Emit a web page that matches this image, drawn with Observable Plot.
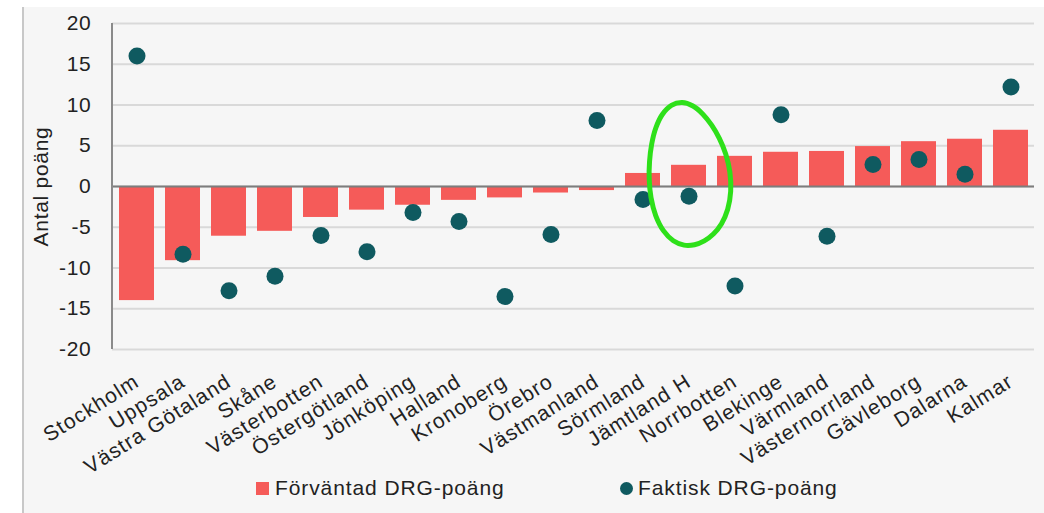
<!DOCTYPE html>
<html><head><meta charset="utf-8">
<script src="https://cdn.jsdelivr.net/npm/d3@7"></script>
<script src="https://cdn.jsdelivr.net/npm/@observablehq/plot@0.6"></script>
<style>
html,body{margin:0;padding:0;background:#fff;}
#wrap{position:relative;width:1044px;height:513px;overflow:hidden;font-family:"Liberation Sans",Arial,sans-serif;}
#panel{position:absolute;left:22px;top:7px;right:0;bottom:0;background:#f6f6f6;border-left:2px solid #c8c8c8;}
#chart{position:absolute;left:0;top:0;}
#chart svg text{letter-spacing:0.7px;}
#chart svg g[aria-label="x-axis tick label"] text{letter-spacing:1.1px;}
#legend{position:absolute;left:0;top:476px;width:1044px;height:37px;}
.item{position:absolute;top:0px;height:24px;line-height:24px;font-size:21px;letter-spacing:0.9px;color:#222;white-space:nowrap;}
.sw{position:absolute;}
</style></head>
<body>
<div id="wrap">
  <div id="panel"></div>
  <div id="chart"></div>
  <div id="legend"></div>
</div>
<script>
const regions = ["Stockholm","Uppsala","Västra Götaland","Skåne","Västerbotten","Östergötland","Jönköping","Halland","Kronoberg","Örebro","Västmanland","Sörmland","Jämtland H","Norrbotten","Blekinge","Värmland","Västernorrland","Gävleborg","Dalarna","Kalmar"];
const expected = [-14.0,-9.1,-6.1,-5.5,-3.8,-2.9,-2.3,-1.7,-1.4,-0.8,-0.5,1.6,2.6,3.7,4.2,4.3,4.9,5.5,5.8,6.9];
const actual = [16.0,-8.3,-12.8,-11.0,-6.0,-8.0,-3.2,-4.3,-13.5,-5.9,8.1,-1.6,-1.2,-12.2,8.8,-6.1,2.7,3.3,1.5,12.2];
const yTicks = [-20,-15,-10,-5,0,5,10,15,20];
const seriesNames = ["Förväntad DRG-poäng","Faktisk DRG-poäng"];
const highlight = {region: "Jämtland H", yLow: -7.5, yHigh: 10.0};

const barColor = "#f55b59";
const dotColor = "#0f5a60";
const data = regions.map((r, i) => ({region: r, expected: expected[i], actual: actual[i]}));

const plot = Plot.plot({
  width: 1044,
  height: 476,
  marginLeft: 112,
  marginRight: 10,
  marginTop: 23,
  marginBottom: 127,
  style: {background: "transparent", fontFamily: "'Liberation Sans', Arial, sans-serif", color: "#222", overflow: "visible"},
  x: {domain: regions, paddingInner: 0.24, paddingOuter: 0.12},
  y: {domain: [-20, 20]},
  marks: [
    Plot.gridY(yTicks, {stroke: "#d9d9d9", strokeOpacity: 1, strokeWidth: 2}),
    Plot.barY(data, {x: "region", y: "expected", fill: barColor}),
    Plot.ruleY([0], {stroke: "#7d7d7d", strokeWidth: 2}),
    Plot.dot(data, {x: "region", y: "actual", r: 8.5, fill: dotColor}),
    Plot.axisY(yTicks, {tickSize: 0, tickPadding: 21, fontSize: 21, tickFormat: d => String(d),
      label: "Antal poäng", labelAnchor: "center", labelOffset: 79, labelArrow: "none"}),
    Plot.axisX({tickSize: 0, tickPadding: 30, tickRotate: -32, fontSize: 21, label: null})
  ]
});

// y-axis line along the left edge of the plot area
const xs = plot.scale("x"), ys = plot.scale("y");
const svg = d3.select(plot);
svg.append("line")
  .attr("x1", 112).attr("x2", 112)
  .attr("y1", ys.apply(20)).attr("y2", ys.apply(-20))
  .attr("stroke", "#8a8a8a").attr("stroke-width", 2);

// highlight loop around the chosen region
const cx = xs.apply(highlight.region) + xs.bandwidth / 2;
const cy = (ys.apply(highlight.yLow) + ys.apply(highlight.yHigh)) / 2;
const ry = Math.abs(ys.apply(highlight.yLow) - ys.apply(highlight.yHigh)) / 2;
const rx = xs.step * 0.88;
const rot = -5 * Math.PI / 180;
const pts = d3.range(0, 24).map(k => {
  const t = k / 24 * 2 * Math.PI;
  const wob = 1 + 0.04 * Math.sin(3 * t + 0.7);
  const ex = rx * Math.cos(t) * wob, ey = ry * Math.sin(t) * wob;
  return [cx + ex * Math.cos(rot) - ey * Math.sin(rot), cy + ex * Math.sin(rot) + ey * Math.cos(rot)];
});
svg.append("path")
  .attr("d", d3.line().curve(d3.curveCatmullRomClosed)(pts))
  .attr("fill", "none").attr("stroke", "#2ee01a").attr("stroke-width", 5)
  .attr("stroke-linecap", "round");

document.getElementById("chart").appendChild(plot);

// legend
const legend = document.getElementById("legend");
legend.innerHTML = `
  <div class="item" style="left:256px;"><span class="sw" style="left:0;top:6px;width:13px;height:13px;background:${barColor}"></span><span style="margin-left:19px">${seriesNames[0]}</span></div>
  <div class="item" style="left:620px;"><span class="sw" style="left:0;top:6px;width:13px;height:13px;border-radius:50%;background:${dotColor}"></span><span style="margin-left:18px">${seriesNames[1]}</span></div>`;
</script>
</body></html>
